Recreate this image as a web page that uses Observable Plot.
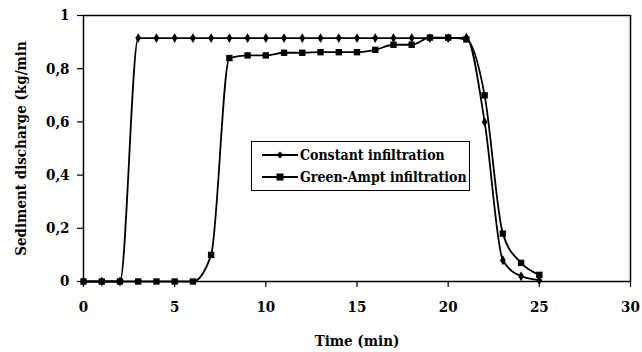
<!DOCTYPE html>
<html>
<head>
<meta charset="utf-8">
<script src="https://cdn.jsdelivr.net/npm/d3@7"></script>
<script src="https://cdn.jsdelivr.net/npm/@observablehq/plot@0.6"></script>
<style>
  body { margin: 0; background: #fff; }
  #wrap { position: relative; width: 642px; height: 352px; }
  #wrap svg text { font-family: "DejaVu Serif Condensed", "DejaVu Serif", serif; font-stretch: condensed; }
  #legend {
    position: absolute; left: 251px; top: 141px; width: 219px; height: 50px;
    border: 1.5px solid #000; background: #fff; box-sizing: border-box;
    font-family: "DejaVu Serif Condensed", "DejaVu Serif", serif; font-stretch: condensed; font-weight: bold; font-size: 14px;
    white-space: nowrap;
  }
  .row { position: absolute; left: 10px; height: 20px; display: flex; align-items: center; }
  .row svg { margin-right: 2px; }
</style>
</head>
<body>
<div id="wrap"></div>
<script>
const time = [0,1,2,3,4,5,6,7,8,9,10,11,12,13,14,15,16,17,18,19,20,21,22,23,24,25];
const constantInf = [0,0,0,0.915,0.915,0.915,0.915,0.915,0.915,0.915,0.915,0.915,0.915,0.915,0.915,0.915,0.915,0.915,0.915,0.915,0.915,0.917,0.60,0.08,0.02,0.005];
const greenAmpt = [0,0,0,0,0,0,0,0.10,0.84,0.85,0.85,0.86,0.86,0.862,0.862,0.862,0.871,0.89,0.89,0.917,0.917,0.91,0.70,0.18,0.07,0.025];
const seriesNames = ["Constant infiltration", "Green-Ampt infiltration"];
const xTicks = [0,5,10,15,20,25,30];
const yTicks = [0,0.2,0.4,0.6,0.8,1];

const dataC = time.map((t,i) => ({t, v: constantInf[i]}));
const dataG = time.map((t,i) => ({t, v: greenAmpt[i]}));

const chart = Plot.plot({
  width: 642, height: 352,
  marginLeft: 83, marginRight: 12, marginTop: 15, marginBottom: 71,
  style: {fontFamily: "'DejaVu Serif Condensed', 'DejaVu Serif', serif", fontSize: "15px", fontWeight: "bold", color: "#000", background: "#fff"},
  x: {domain: [0,30]},
  y: {domain: [0,1]},
  marks: [
    Plot.frame({stroke: "#000", strokeWidth: 1.5}),
    Plot.axisX({ticks: xTicks, tickSize: 6, tickPadding: 14, tickFormat: d => String(d), label: "Time (min)", labelAnchor: "center", labelOffset: 64, labelArrow: "none", strokeWidth: 1.2}),
    Plot.axisY({ticks: yTicks, tickSize: 6, tickPadding: 8, tickFormat: d => String(d).replace(".", ","), label: "Sediment discharge (kg/min", labelAnchor: "center", labelOffset: 68, labelArrow: "none", strokeWidth: 1.2}),
    Plot.line(dataG, {x: "t", y: "v", curve: "monotone-x", stroke: "#000", strokeWidth: 1.8}),
    Plot.line(dataC, {x: "t", y: "v", curve: "monotone-x", stroke: "#000", strokeWidth: 1.8}),
    Plot.dot(dataC, {x: "t", y: "v", symbol: "diamond", r: 3, fill: "#000"}),
    Plot.dot(dataG, {x: "t", y: "v", symbol: "square", r: 3.6, fill: "#000"})
  ]
});
document.getElementById("wrap").appendChild(chart);

const legend = document.createElement("div");
legend.id = "legend";
legend.innerHTML = `
  <div class="row" style="top:3px"><svg width="36" height="12"><line x1="0" y1="6" x2="36" y2="6" stroke="#000" stroke-width="1.8"/><path d="M18,2.5L21.5,6L18,9.5L14.5,6Z" fill="#000"/></svg><span>${seriesNames[0]}</span></div>
  <div class="row" style="top:25px"><svg width="36" height="12"><line x1="0" y1="6" x2="36" y2="6" stroke="#000" stroke-width="1.8"/><rect x="14.5" y="2.5" width="7" height="7" fill="#000"/></svg><span>${seriesNames[1]}</span></div>`;
document.getElementById("wrap").appendChild(legend);
</script>
</body>
</html>
